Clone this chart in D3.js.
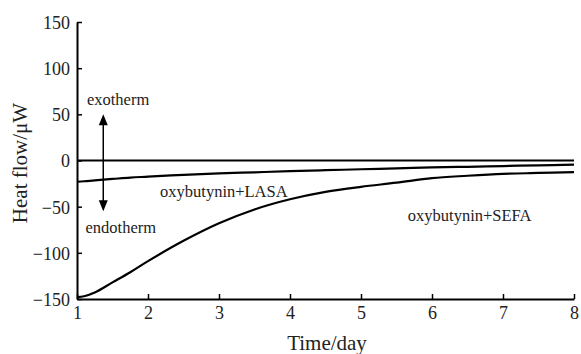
<!DOCTYPE html>
<html>
<head>
<meta charset="utf-8">
<script src="https://cdn.jsdelivr.net/npm/d3@7"></script>
<style>
  html, body { margin: 0; padding: 0; background: #fff; }
  svg { display: block; }
  svg text { font-family: "Liberation Serif", "DejaVu Serif", serif; fill: #222; }
</style>
</head>
<body>
<svg id="chart" width="581" height="354"></svg>
<script>
// Heat flow measured over eight days
const days = [1, 1.1, 1.25, 1.5, 1.75, 2, 2.5, 3, 3.5, 4, 4.5, 5, 5.5, 6, 6.5, 7, 7.5, 8];
const sefa = [-148, -147, -143, -132, -121, -109, -87, -68, -53, -42, -34, -28.5, -24, -19, -16.5, -14.5, -13.5, -12.5];
const lasa = [-23, -22.5, -21.5, -20, -18.5, -17.5, -15.5, -14, -12.8, -11.5, -10.5, -9.5, -8.5, -7.5, -6.8, -6, -5.2, -4.5];
const baseline = [0, 0, 0, 0, 0, 0, 0, 0, 0, 0, 0, 0, 0, 0, 0, 0, 0, 0];

const xTicks = [1, 2, 3, 4, 5, 6, 7, 8];
const yTicks = [-150, -100, -50, 0, 50, 100, 150];

const SERIF = '"Liberation Serif", "DejaVu Serif", serif';
const svg = d3.select("#chart");

const x = d3.scaleLinear().domain([1, 8]).range([77, 574]);
const y = d3.scaleLinear().domain([-150, 150]).range([299, 22]);

// Axes with inward ticks
const xAxis = d3.axisBottom(x).tickValues(xTicks).tickFormat(d3.format("d"))
  .tickSizeInner(-5).tickSizeOuter(0).tickPadding(7);
const yAxis = d3.axisLeft(y).tickValues(yTicks)
  .tickFormat(d => d < 0 ? "\u2212" + Math.abs(d) : String(d))
  .tickSizeInner(-5).tickSizeOuter(0).tickPadding(7);

const gx = svg.append("g").attr("transform", `translate(0,${y(-150)})`).call(xAxis);
const gy = svg.append("g").attr("transform", `translate(${x(1)},0)`).call(yAxis);

[gx, gy].forEach(g => {
  g.attr("font-family", SERIF).attr("font-size", 18);
  g.selectAll("path.domain").attr("stroke", "#000").attr("stroke-width", 2);
  g.selectAll(".tick line").attr("stroke", "#000").attr("stroke-width", 1.5);
  g.selectAll(".tick text")
    .attr("font-family", SERIF)
    .style("font-family", SERIF)
    .style("font-size", "18px")
    .attr("fill", "#222");
});
gy.selectAll(".tick text").attr("dy", "0.36em");
gx.selectAll(".tick text").attr("dy", "0.72em");

// Axis titles
svg.append("text")
  .attr("x", 327).attr("y", 350)
  .attr("text-anchor", "middle")
  .style("font-size", "21px")
  .text("Time/day");

svg.append("text")
  .attr("transform", "translate(27,163) rotate(-90)")
  .attr("text-anchor", "middle")
  .style("font-size", "21px")
  .text("Heat flow/\u03bcW");

// Curves
const line = d3.line()
  .x(d => x(d[0]))
  .y(d => y(d[1]))
  .curve(d3.curveCatmullRom.alpha(0.5));

[baseline, lasa, sefa].forEach(series => {
  svg.append("path")
    .datum(days.map((d, i) => [d, series[i]]))
    .attr("fill", "none")
    .attr("stroke", "#000")
    .attr("stroke-width", 2.2)
    .attr("d", line);
});

// Exotherm / endotherm arrow
const arrowX = x(1.37);
const topY = y(50), botY = y(-55);
svg.append("line")
  .attr("x1", arrowX).attr("x2", arrowX)
  .attr("y1", topY + 8).attr("y2", botY - 8)
  .attr("stroke", "#000").attr("stroke-width", 1.5);
svg.append("path")
  .attr("d", `M${arrowX},${topY} L${arrowX - 4.5},${topY + 11} L${arrowX + 4.5},${topY + 11} Z`)
  .attr("fill", "#000");
svg.append("path")
  .attr("d", `M${arrowX},${botY} L${arrowX - 4.5},${botY - 11} L${arrowX + 4.5},${botY - 11} Z`)
  .attr("fill", "#000");

// Annotations
const notes = [
  { text: "exotherm", day: 1.14, value: 60.5 },
  { text: "endotherm", day: 1.12, value: -78 },
  { text: "oxybutynin+LASA", day: 2.17, value: -39 },
  { text: "oxybutynin+SEFA", day: 5.66, value: -66 }
];
svg.selectAll("text.note")
  .data(notes)
  .enter().append("text")
  .attr("class", "note")
  .attr("x", d => x(d.day))
  .attr("y", d => y(d.value))
  .style("font-size", "16.5px")
  .text(d => d.text);
</script>
</body>
</html>
